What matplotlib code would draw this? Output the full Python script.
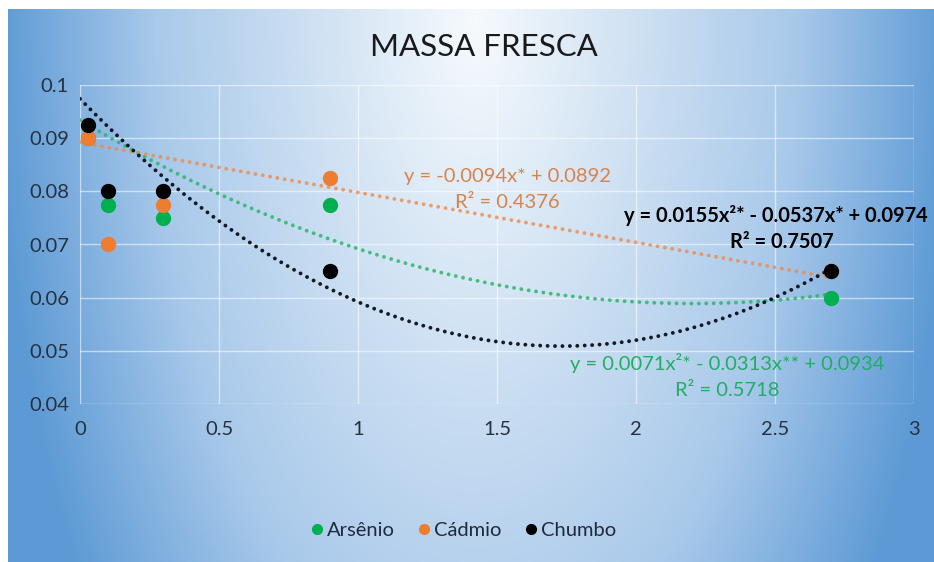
import numpy as np
import matplotlib
matplotlib.use("Agg")
import matplotlib.pyplot as plt
from matplotlib.colors import LinearSegmentedColormap
from matplotlib.lines import Line2D

plt.rcParams['font.family'] = ['Lato', 'DejaVu Sans']

# dose values (x) and mass of each series
doses = [0.03, 0.1, 0.3, 0.9, 2.7]
arsenio = [0.09, 0.0775, 0.075, 0.0775, 0.06]
cadmio = [0.09, 0.07, 0.0775, 0.0825, 0.065]
chumbo = [0.0925, 0.08, 0.08, 0.065, 0.065]

# trendline coefficients as printed on the chart (highest power first)
coef_arsenio = [0.0071, -0.0313, 0.0934]
coef_cadmio = [-0.0094, 0.0892]
coef_chumbo = [0.0155, -0.0537, 0.0974]

green = '#00B050'
orange = '#ED7D31'
black = '#000000'

fig = plt.figure(figsize=(9.34, 5.62), dpi=100)
fig.patch.set_facecolor('white')

# gradient background
bg = fig.add_axes([8 / 934, 0, 926 / 934, 553 / 562], zorder=-10)
W, H = 926, 553
xx, yy = np.meshgrid(np.arange(W), np.arange(H))
dx = (xx - 467) / 480
dy = (yy - 10) / 550
t = np.clip(np.sqrt(dx ** 2 + (0.55 * dy) ** 2), 0, 1)
cmap = LinearSegmentedColormap.from_list('bg', ['#F6FAFD', '#CFE1F3', '#A9C9EA', '#5D9AD5'])
bg.imshow(t, cmap=cmap, aspect='auto', vmin=0, vmax=1, interpolation='bilinear')
bg.axis('off')

ax = fig.add_axes([80 / 934, 1 - 404 / 562, (914 - 80) / 934, (404 - 85) / 562])
ax.set_facecolor('none')
ax.set_xlim(0, 3)
ax.set_ylim(0.04, 0.1)
ax.set_xticks([0, 0.5, 1, 1.5, 2, 2.5, 3])
ax.set_xticklabels(['0', '0.5', '1', '1.5', '2', '2.5', '3'])
ax.set_yticks([0.04, 0.05, 0.06, 0.07, 0.08, 0.09, 0.1])
ax.set_yticklabels(['0.04', '0.05', '0.06', '0.07', '0.08', '0.09', '0.1'])
ax.tick_params(length=0, labelsize=14.5, colors='#26313F', pad=12)
ax.tick_params(axis='y', pad=8)
for s in ax.spines.values():
    s.set_visible(False)
ax.grid(True, color='white', lw=1.0, alpha=0.55)
ax.set_axisbelow(True)

dots = (0, (0.01, 1.9))
xs = np.linspace(0, 2.7, 200)
ax.plot(xs, np.polyval(coef_arsenio, xs), color='#22B463', lw=2.8, alpha=0.8,
        linestyle=dots, dash_capstyle='round', zorder=2)
ax.plot(xs, np.polyval(coef_cadmio, xs), color='#EE8A4A', lw=2.8, alpha=0.8,
        linestyle=dots, dash_capstyle='round', zorder=2)
ax.plot(xs, np.polyval(coef_chumbo, xs), color='#0A0F1A', lw=2.8, alpha=0.95,
        linestyle=dots, dash_capstyle='round', zorder=2)

ax.scatter(doses, arsenio, s=100, color=green, zorder=3, label='Arsênio')
ax.scatter(doses, cadmio, s=100, color=orange, zorder=3, label='Cádmio')
ax.scatter(doses, chumbo, s=100, color=black, zorder=3, label='Chumbo')

# equation labels
fig.text(507 / 934, 1 - 177 / 562, 'y = -0.0094x* + 0.0892', color='#D9824A',
         fontsize=14.5, ha='center', va='center')
fig.text(507 / 934, 1 - 203 / 562, 'R² = 0.4376', color='#D9824A',
         fontsize=14.5, ha='center', va='center')
fig.text(776 / 934, 1 - 215 / 562, 'y = 0.0155x²* - 0.0537x* + 0.0974',
         color='black', fontsize=14.5, fontweight='bold', ha='center', va='center')
fig.text(782 / 934, 1 - 242 / 562, 'R² = 0.7507', color='black',
         fontsize=14.5, fontweight='bold', ha='center', va='center')
fig.text(727 / 934, 1 - 363 / 562, 'y = 0.0071x²* - 0.0313x** + 0.0934',
         color='#1FAE62', fontsize=14.5, ha='center', va='center')
fig.text(727 / 934, 1 - 390 / 562, 'R² = 0.5718', color='#1FAE62',
         fontsize=14.5, ha='center', va='center')

fig.text(484 / 934, 1 - 47 / 562, 'MASSA FRESCA', fontsize=22.5, color='#1A1A1A',
         ha='center', va='center')

handles = [Line2D([], [], marker='o', ls='none', color=c, markersize=7)
           for c in (green, orange, black)]
fig.legend(handles, ['Arsênio', 'Cádmio', 'Chumbo'], loc='center',
           bbox_to_anchor=(462 / 934, 1 - 530 / 562), ncol=3, frameon=False,
           fontsize=14.5, handletextpad=0.05, columnspacing=1.0, handlelength=0.9,
           labelcolor='#1F2A3C')

fig.savefig('out.png', dpi=100)
